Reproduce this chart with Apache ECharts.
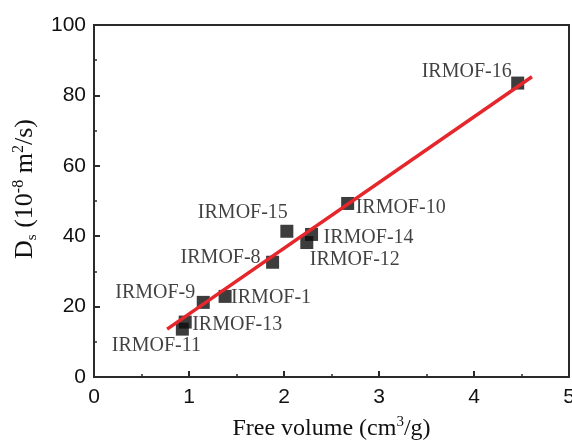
<!DOCTYPE html>
<html style="height: 100%">
<head>
<meta charset="utf-8">
<script src="https://cdn.jsdelivr.net/npm/echarts@6/dist/echarts.min.js"></script>
</head>
<body style="height: 100%; margin: 0; background: #fff">
<div id="container" style="width: 572px; height: 442px"></div>
<script type="text/javascript">
// data
var names = ['IRMOF-16', 'IRMOF-15', 'IRMOF-10', 'IRMOF-14', 'IRMOF-12', 'IRMOF-8', 'IRMOF-9', 'IRMOF-1', 'IRMOF-13', 'IRMOF-11'];
var freeVolume = [4.46, 2.03, 2.67, 2.29, 2.24, 1.88, 1.15, 1.38, 0.96, 0.93];
var diffusivity = [83.5, 41.4, 49.3, 40.5, 38.2, 32.6, 21.2, 22.9, 15.6, 13.6];
var fitX = [0.77, 4.61];
var fitY = [13.6, 85.3];
var xTicks = [0, 1, 2, 3, 4, 5];
var yTicks = [0, 20, 40, 60, 80, 100];

// label offsets (px) from each square, by name
var labelOffset = {
	'IRMOF-16': [-51, -11],
	'IRMOF-15': [-44, -19],
	'IRMOF-10': [53, 4],
	'IRMOF-14': [57, 3],
	'IRMOF-12': [48, 17],
	'IRMOF-8': [-52, -4],
	'IRMOF-9': [-48, -10],
	'IRMOF-1': [46, 1],
	'IRMOF-13': [52, 3],
	'IRMOF-11': [-26, 17]
};

var points = [], fit = [], i;
for (i = 0; i < names.length; i++) {
	points.push({
		name: names[i],
		value: [freeVolume[i], diffusivity[i]],
		label: { offset: labelOffset[names[i]] }
	});
}
for (i = 0; i < fitX.length; i++) {
	fit.push([fitX[i], fitY[i]]);
}

var serif = '"Liberation Serif", "DejaVu Serif", serif';
var sans = '"Liberation Sans", Arial, sans-serif';
var axisColor = '#2a2a2a';
var textColor = '#111';

var option = {
	backgroundColor: '#fff',
	animation: false,
	grid: {
		left: 94, right: 3, top: 25, bottom: 65,
		outerBoundsMode: 'none',
		show: true, borderColor: axisColor, borderWidth: 2
	},
	xAxis: {
		type: 'value',
		min: xTicks[0], max: xTicks[xTicks.length - 1], interval: 1,
		name: 'Free volume (cm{sup|3}/g)',
		nameLocation: 'middle', nameGap: 38,
		nameTextStyle: {
			fontFamily: serif, fontSize: 24, color: textColor,
			rich: { sup: { fontFamily: serif, fontSize: 15, verticalAlign: 'top', padding: [0, 0, 12, 0] } }
		},
		axisLine: { lineStyle: { color: axisColor, width: 2 } },
		axisTick: { inside: true, length: 6, lineStyle: { color: axisColor, width: 2 } },
		minorTick: { show: true, splitNumber: 2, length: 3, lineStyle: { color: axisColor, width: 1.5 } },
		axisLabel: { fontFamily: sans, fontSize: 21, color: textColor, margin: 10 },
		splitLine: { show: false }
	},
	yAxis: {
		type: 'value',
		min: yTicks[0], max: yTicks[yTicks.length - 1], interval: 20,
		name: 'D{sub|s} (10{sup|-8} m{sup|2}/s)',
		nameLocation: 'middle', nameGap: 48, nameRotate: 90,
		nameTextStyle: {
			fontFamily: serif, fontSize: 26, color: textColor, padding: [0, 0, 0, 24],
			rich: {
				sup: { fontFamily: serif, fontSize: 16, verticalAlign: 'top', padding: [0, 0, 13, 0] },
				sub: { fontFamily: serif, fontSize: 15, verticalAlign: 'bottom', padding: [11, 0, 0, 0] }
			}
		},
		axisLine: { lineStyle: { color: axisColor, width: 2 } },
		axisTick: { inside: true, length: 6, lineStyle: { color: axisColor, width: 2 } },
		minorTick: { show: true, splitNumber: 2, length: 3, lineStyle: { color: axisColor, width: 1.5 } },
		axisLabel: { fontFamily: sans, fontSize: 21, color: textColor, margin: 8 },
		splitLine: { show: false }
	},
	series: [{
		type: 'scatter',
		symbol: 'rect',
		symbolSize: 13,
		itemStyle: { color: '#0d0d0d' },
		label: {
			show: true,
			position: 'inside',
			formatter: '{b}',
			fontFamily: serif,
			fontSize: 20,
			color: textColor
		},
		data: points,
		z: 2
	}, {
		type: 'line',
		data: fit,
		symbol: 'none',
		lineStyle: { color: '#e5262b', width: 3.5 },
		z: 3
	}]
};

var myChart = echarts.init(document.getElementById('container'));
myChart.setOption(option);
</script>
</body>
</html>
